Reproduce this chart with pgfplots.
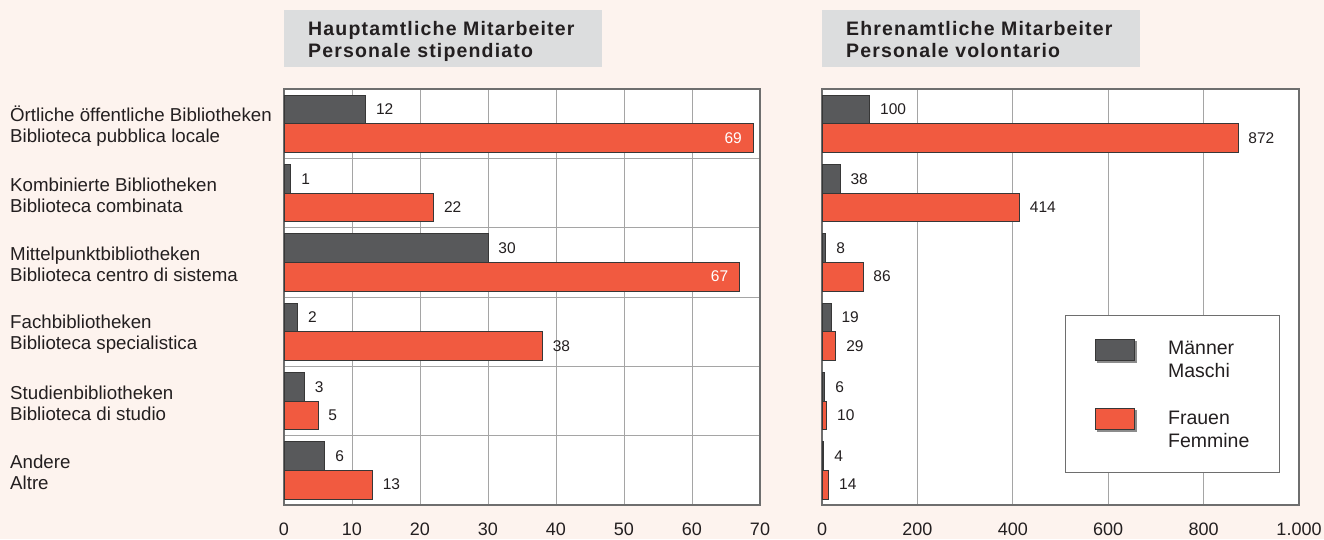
\documentclass[border=0pt]{standalone}
\usepackage{fontspec}
\setmainfont{Liberation Sans}
\newfontfamily\titlefont[LetterSpace=6]{Liberation Sans}
\usepackage{pgfplots}
\pgfplotsset{compat=1.18}

\definecolor{bgc}{RGB}{253,243,238}
\definecolor{boxc}{RGB}{220,221,222}
\definecolor{malec}{RGB}{88,89,91}
\definecolor{femalec}{RGB}{241,90,64}
\definecolor{gridc}{RGB}{165,165,165}
\definecolor{framec}{RGB}{110,110,110}
\definecolor{txt}{RGB}{35,31,32}
\definecolor{edgec}{RGB}{55,55,55}

\pgfplotsset{
  mybase/.style={
    scale only axis, height=416pt,
    anchor=south west,
    xbar, bar width=0.413,
    y dir=reverse, ymin=-0.5, ymax=5.5,
    axis background/.style={fill=white},
    axis line style={draw=framec, line width=1.2pt},
    xmajorgrids, yminorgrids,
    minor ytick={0.5,1.5,2.5,3.5,4.5},
    grid style={draw=gridc, line width=1pt},
    major tick length=0pt, minor tick length=0pt,
    scaled x ticks=false,
    /pgf/number format/assume math mode=true,
    tick label style={font=\fontsize{18}{21}\selectfont, text=txt},
    xticklabel style={inner sep=0pt, yshift=-18pt},
    title style={at={(0,1)}, anchor=south west, yshift=15.5pt, fill=boxc,
      text width=270pt, inner xsep=24pt, inner ysep=0pt, text height=25pt, text depth=32pt, align=left,
      font=\titlefont\bfseries\fontsize{19.5}{22}\selectfont, text=txt},
    legend image code/.code={
      \fill[black!45] (2pt,-2pt) rectangle (41pt,19pt);
      \draw[#1] (0pt,0pt) rectangle (39pt,21pt);},
  },
  malebar/.style={fill=malec, draw=edgec, line width=0.9pt, bar shift=-0.2065},
  femalebar/.style={fill=femalec, draw=edgec, line width=0.9pt, bar shift=0.2065},
  outlbl/.style={draw=none, fill=none, forget plot, nodes near coords,
    nodes near coords style={font=\fontsize{15.5}{18}\selectfont, text=txt, anchor=west, inner sep=0pt, xshift=10pt}},
  inlbl/.style={draw=none, fill=none, forget plot, nodes near coords,
    nodes near coords style={font=\fontsize{15.5}{18}\selectfont, text=white, anchor=east, inner sep=0pt, xshift=-11pt}},
}

\begin{document}
\begin{tikzpicture}[x=1pt,y=1pt]
\useasboundingbox (0,0) rectangle (1324,539);
\fill[bgc] (0,0) rectangle (1324,539);

\begin{axis}[mybase, at={(284pt,34pt)}, width=476pt,
  xmin=0, xmax=70, xtick={0,10,...,70},
  ytick={0,1,2,3,4,5},
  yticklabels={{Örtliche öffentliche Bibliotheken\\Biblioteca pubblica locale},
    {Kombinierte Bibliotheken\\Biblioteca combinata},
    {Mittelpunktbibliotheken\\Biblioteca centro di sistema},
    {Fachbibliotheken\\Biblioteca specialistica},
    {Studienbibliotheken\\Biblioteca di studio},
    {Andere\\Altre}},
  yticklabel style={anchor=west, align=left, inner sep=0pt, xshift=-274pt, yshift=-2pt,
    font=\fontsize{18.7}{21}\selectfont},
  title={Hauptamtliche Mitarbeiter\\Personale stipendiato},
]
\addplot[malebar] coordinates {(12,0) (1,1) (30,2) (2,3) (3,4) (6,5)};
\addplot[femalebar] coordinates {(69,0) (22,1) (67,2) (38,3) (5,4) (13,5)};
\addplot[malebar, outlbl] coordinates {(12,0) (1,1) (30,2) (2,3) (3,4) (6,5)};
\addplot[femalebar, outlbl] coordinates {(22,1) (38,3) (5,4) (13,5)};
\addplot[femalebar, inlbl] coordinates {(69,0) (67,2)};
\end{axis}

\begin{axis}[mybase, at={(822pt,34pt)}, width=477pt,
  xmin=0, xmax=1000, xtick={0,200,...,1000},
  xticklabel style={/pgf/number format/1000 sep={.}},
  ytick=\empty,
  title={Ehrenamtliche Mitarbeiter\\Personale volontario},
  legend cell align=left,
  legend style={at={(0.509,0.457)}, anchor=north west, draw=framec, line width=0.8pt,
    fill=white, inner xsep=30pt, inner ysep=23.5pt, row sep=29pt,
    font=\fontsize{19.5}{23}\selectfont, text=txt,
    nodes={inner sep=0pt},
    cells={align=left},
    /tikz/every odd column/.append style={column sep=31pt}},
]
\addplot[malebar] coordinates {(100,0) (38,1) (8,2) (19,3) (6,4) (4,5)};
\addlegendentry{Männer\\Maschi}
\addplot[femalebar] coordinates {(872,0) (414,1) (86,2) (29,3) (10,4) (14,5)};
\addlegendentry{Frauen\\Femmine}
\addplot[malebar, outlbl] coordinates {(100,0) (38,1) (8,2) (19,3) (6,4) (4,5)};
\addplot[femalebar, outlbl] coordinates {(872,0) (414,1) (86,2) (29,3) (10,4) (14,5)};
\end{axis}
\end{tikzpicture}
\end{document}
